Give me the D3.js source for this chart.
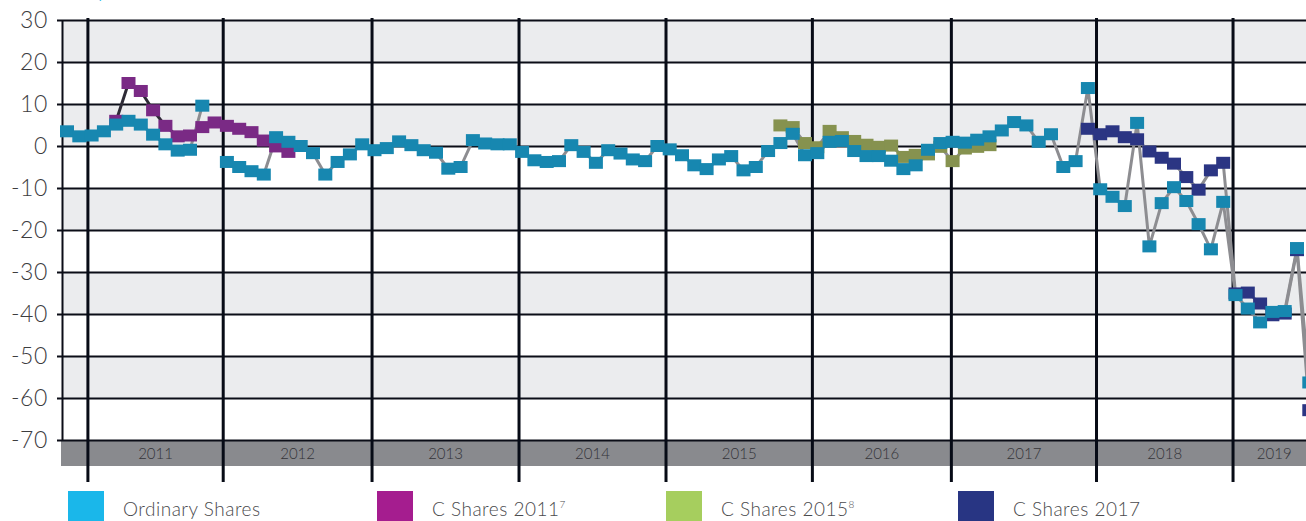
<!DOCTYPE html>
<html>
<head>
<meta charset="utf-8">
<script src="https://cdn.jsdelivr.net/npm/d3@7/dist/d3.min.js"></script>
<style>
  html, body { margin: 0; padding: 0; background: #fff; }
  svg { display: block; font-family: Lato, "Open Sans", sans-serif; }
</style>
</head>
<body>
<svg id="chart" width="1306" height="521"></svg>
<script>
// ---------- DATA ----------
const yTicks = [30, 20, 10, 0, -10, -20, -30, -40, -50, -60, -70];
const years = ["2011", "2012", "2013", "2014", "2015", "2016", "2017", "2018", "2019"];
// year boundaries, in point-index units (start of each year)
const yearStarts = [1.7, 12.7, 24.8, 36.75, 48.7, 60.6, 71.9, 83.7, 94.8];
const lastIndex = 101.5;

const ordinaryStart = 0;
const ordinaryValues = [
  3.5, 2.3, 2.5, 3.5, 5.1, 6.0, 5.1, 2.7, 0.4, -1.1,
  -0.9, 9.6, null, -3.8, -5.0, -6.0, -6.8, 2.1, 1.0, 0.0,
  -1.7, -6.8, -3.8, -2.0, 0.4, -1.0, -0.5, 1.1, 0.2, -1.0,
  -1.6, -5.4, -5.0, 1.4, 0.6, 0.4, 0.4, -1.4, -3.4, -3.8,
  -3.6, 0.2, -1.4, -4.0, -1.0, -1.8, -3.2, -3.6, 0.0, -0.8,
  -2.2, -4.6, -5.5, -3.2, -2.4, -5.8, -5.0, -1.2, 0.7, 2.9,
  -2.2, -1.7, 1.0, 1.2, -1.2, -2.4, -2.4, -3.5, -5.5, -4.6,
  -0.9, 0.7, 1.0, 0.8, 1.5, 2.3, 3.7, 5.7, 4.9, 1.0,
  2.8, -5.0, -3.6, 13.8, -10.3, -12.1, -14.3, 5.5, -23.9, -13.6,
  -9.8, -13.1, -18.6, -24.6, -13.3, -35.5, -38.7, -42.0, -39.5, -39.3,
  -24.3, -56.3
];

const c2011Start = 4;
const c2011Values = [6.0, 15.0, 13.1, 8.5, 4.8, 2.3, 2.5, 4.5, 5.6, 4.8, 4.1, 3.3, 1.3, -0.1, -1.4];

const c2015Start = 58;
const c2015Values = [4.9, 4.5, 0.7, -0.3, 3.6, 2.1, 1.2, 0.3, -0.2, 0.1, -2.6, -2.1, -2.0, -0.2, -3.6, -0.6, -0.2, 0.2];

const c2017Start = 83;
const c2017Values = [4.1, 2.8, 3.5, 2.1, 1.6, -1.3, -2.8, -4.2, -7.4, -10.4, -5.8, -4.0, -35.1, -34.9, -37.5, -40.3, -39.9, -24.8, -62.9];

const legendLabels = ["Ordinary Shares", "C Shares 2011", "C Shares 2015", "C Shares 2017"];
const legendSup = ["", "7", "8", ""];

// ---------- STYLE ----------
const W = 1306, H = 521;
const plotLeft = 62, plotTop = 20, plotBottom = 440;
const markerColors = {ord: "#1787b0", c11: "#7a2a85", c15: "#86924f", c17: "#2b3583"};
const legendColors = ["#1ab7ea", "#a51d8f", "#a6ce5e", "#283583"];
const lineColors = {ord: "#8d8d91", c11: "#2e2b36", c15: "#8d8d91", c17: "#8d8d91"};

const svg = d3.select("#chart");

const x = d3.scaleLinear().domain([0, 101]).range([67, 67 + 101 * 12.3]);
const y = d3.scaleLinear().domain([-70, 30]).range([plotBottom, plotTop]);

// background bands
const bandPairs = d3.pairs(yTicks.slice().reverse()); // [-70,-60],...
svg.append("g").selectAll("rect").data(bandPairs).join("rect")
  .attr("x", plotLeft).attr("width", W - plotLeft)
  .attr("y", d => y(d[1])).attr("height", d => y(d[0]) - y(d[1]))
  .attr("fill", d => (Math.round((d[1] - 30) / 10) % 2 === 0) ? "#ebecee" : "#ffffff");

// cut-off title fragment (the reference shows only the bottom of a title letter)
svg.append("text").attr("x", 96).attr("y", -3)
  .attr("font-size", 24).attr("font-weight", 300).attr("fill", "#1ab7ea").text("y");

// year band
svg.append("rect").attr("x", plotLeft - 1).attr("y", plotBottom).attr("width", W - plotLeft + 1).attr("height", 26)
  .attr("fill", "#898a8e");

// y axis with gridlines
const yAxis = d3.axisLeft(y).tickValues(yTicks).tickFormat(d => String(d))
  .tickSizeOuter(0).tickSizeInner(0).tickPadding(14);
const gy = svg.append("g").attr("transform", `translate(${plotLeft},0)`).call(yAxis);
gy.select(".domain").attr("stroke", "#0b0d17").attr("stroke-width", 2);
gy.selectAll(".tick line").attr("x1", -5).attr("x2", W - plotLeft).attr("stroke", "#0b0d17").attr("stroke-width", 2.2);
gy.selectAll(".tick text").attr("font-size", 23).attr("font-weight", 300).attr("fill", "#3d3d3f")
  .attr("letter-spacing", 0.6).attr("font-family", "Lato, sans-serif");

// year lines
svg.append("g").selectAll("line").data(yearStarts).join("line")
  .attr("x1", d => x(d)).attr("x2", d => x(d)).attr("y1", 18).attr("y2", 482)
  .attr("stroke", "#070b16").attr("stroke-width", 3);

// year labels
const yearEnds = yearStarts.slice(1).concat([lastIndex]);
svg.append("g").selectAll("text").data(years).join("text")
  .attr("x", (d, i) => x((yearStarts[i] + yearEnds[i]) / 2))
  .attr("y", 459).attr("text-anchor", "middle")
  .attr("font-size", 15).attr("font-weight", 300).attr("fill", "#333338")
  .text(d => d);

// series
function toPoints(start, vals) { return vals.map((v, i) => ({i: start + i, v})); }
const series = [
  {key: "c11", pts: toPoints(c2011Start, c2011Values)},
  {key: "c15", pts: toPoints(c2015Start, c2015Values)},
  {key: "c17", pts: toPoints(c2017Start, c2017Values)},
  {key: "ord", pts: toPoints(ordinaryStart, ordinaryValues)}
];

const line = d3.line().defined(d => d.v !== null).x(d => x(d.i)).y(d => y(d.v));
const gLines = svg.append("g");
series.forEach(s => {
  gLines.append("path").datum(s.pts).attr("d", line)
    .attr("fill", "none").attr("stroke", lineColors[s.key]).attr("stroke-width", 3)
    .attr("stroke-linejoin", "round");
});
const mw = 14, mh = 12;
series.forEach(s => {
  svg.append("g").selectAll("rect").data(s.pts.filter(d => d.v !== null)).join("rect")
    .attr("x", d => x(d.i) - mw / 2).attr("y", d => y(d.v) - mh / 2)
    .attr("width", mw).attr("height", mh)
    .attr("fill", markerColors[s.key]);
});

// legend
const legX = [68, 377, 666, 958];
const lg = svg.append("g");
legendLabels.forEach((lab, i) => {
  lg.append("rect").attr("x", legX[i]).attr("y", 491).attr("width", 36).attr("height", 30).attr("fill", legendColors[i]);
  const t = lg.append("text").attr("x", legX[i] + 55).attr("y", 516)
    .attr("font-size", 19).attr("font-weight", 300).attr("letter-spacing", 0.5).attr("fill", "#4a4a4d");
  t.append("tspan").text(lab);
  if (legendSup[i]) t.append("tspan").attr("font-size", 10).attr("dy", -8).text(legendSup[i]);
});
</script>
</body>
</html>
